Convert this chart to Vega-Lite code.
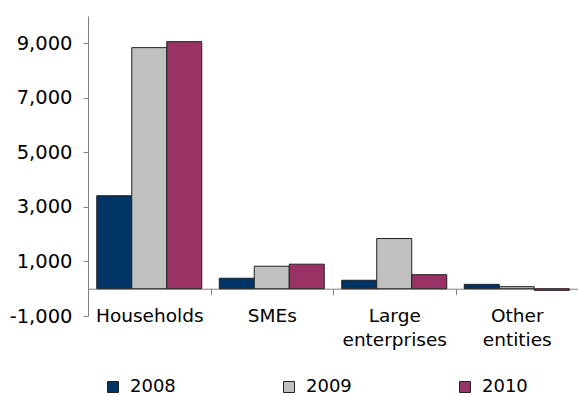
{
  "$schema": "https://vega.github.io/schema/vega-lite/v6.json",
  "width": 490,
  "height": 300,
  "autosize": {"type": "none"},
  "padding": {"left": 88, "top": 16, "right": 0, "bottom": 80},
  "background": "white",
  "data": {
    "values": [
      {"category": "Households", "year": "2008", "value": 3410},
      {"category": "Households", "year": "2009", "value": 8840},
      {"category": "Households", "year": "2010", "value": 9060},
      {"category": "SMEs", "year": "2008", "value": 385},
      {"category": "SMEs", "year": "2009", "value": 825},
      {"category": "SMEs", "year": "2010", "value": 900},
      {"category": "Large enterprises", "year": "2008", "value": 310},
      {"category": "Large enterprises", "year": "2009", "value": 1840},
      {"category": "Large enterprises", "year": "2010", "value": 515},
      {"category": "Other entities", "year": "2008", "value": 160},
      {"category": "Other entities", "year": "2009", "value": 75},
      {"category": "Other entities", "year": "2010", "value": -60}
    ]
  },
  "mark": {"type": "bar", "stroke": "#222222", "strokeWidth": 1},
  "encoding": {
    "x": {
      "field": "category",
      "type": "nominal",
      "sort": null,
      "scale": {"paddingInner": 0, "paddingOuter": 0},
      "axis": {
        "title": null,
        "offset": -27.3,
        "labelAngle": 0,
        "labelFont": "DejaVu Sans",
        "labelFontSize": 18.5,
        "labelColor": "#000000",
        "labelPadding": 12,
        "labelLineHeight": 24,
        "labelExpr": "datum.label == 'Large enterprises' ? ['Large','enterprises'] : datum.label == 'Other entities' ? ['Other','entities'] : datum.label",
        "tickBand": "extent",
        "tickSize": 6,
        "tickColor": "#808080",
        "domainColor": "#808080",
        "labelLimit": 0
      }
    },
    "xOffset": {
      "field": "year",
      "type": "nominal",
      "scale": {"paddingInner": 0, "paddingOuter": 0.25}
    },
    "y": {
      "field": "value",
      "type": "quantitative",
      "scale": {"domain": [-1000, 10000], "nice": false, "zero": false},
      "axis": {
        "title": null,
        "values": [-1000, 1000, 3000, 5000, 7000, 9000],
        "labelExpr": "replace(format(datum.value, ',.0f'), '\u2212', '-')",
        "grid": false,
        "labelFont": "DejaVu Sans",
        "labelFontSize": 19.5,
        "labelColor": "#000000",
        "labelPadding": 11,
        "tickSize": 5,
        "tickColor": "#808080",
        "domainColor": "#808080"
      }
    },
    "color": {
      "field": "year",
      "type": "nominal",
      "scale": {"domain": ["2008", "2009", "2010"], "range": ["#003366", "#C0C0C0", "#993366"]},
      "legend": {
        "title": null,
        "orient": "none",
        "legendX": 16,
        "legendY": 362,
        "direction": "horizontal",
        "columns": 3,
        "columnPadding": 104,
        "symbolType": "square",
        "symbolSize": 121,
        "symbolStrokeColor": "#222222",
        "symbolStrokeWidth": 1,
        "labelFont": "DejaVu Sans",
        "labelFontSize": 18,
        "labelColor": "#000000",
        "labelOffset": 8
      }
    }
  },
  "config": {"view": {"stroke": null}}
}
